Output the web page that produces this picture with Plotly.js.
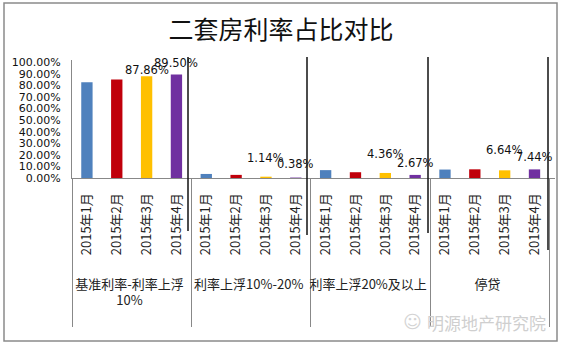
<!DOCTYPE html>
<html><head><meta charset="utf-8">
<script src="https://cdn.plot.ly/plotly-3.0.1.min.js"></script>
<style>html,body{margin:0;padding:0;background:#fff}</style>
</head><body><div id="chart" style="width:562px;height:346px"></div>
<script>
const groups = ['\u00a0<br>基准利率-利率上浮<br>10%<br>\u00a0', '\u00a0<br>利率上浮10%-20%', '\u00a0<br>利率上浮20%及以上', '\u00a0<br>停贷'];
const months = ['2015年1月', '2015年2月', '2015年3月', '2015年4月'];
const jan = [0.828, 0.035, 0.068, 0.073];
const feb = [0.851, 0.027, 0.050, 0.075];
const mar = [0.8786, 0.0114, 0.0436, 0.0664];
const apr = [0.8950, 0.0038, 0.0267, 0.0744];
const labelled = [false, false, true, true];
const series = [jan, feb, mar, apr];
const colors = ['#4F81BD', '#C0000B', '#FFC000', '#7030A0'];
const labelShift = [[0,0,-3,2],[0,0,10,5],[0,0,10,3],[0,0,11,3]];

const traces = series.map((vals, m) => ({
  type: 'bar',
  name: months[m],
  x: [groups, groups.map(() => months[m])],
  y: vals,
  width: 0.38,
  marker: {color: colors[m]},
  hoverinfo: 'skip'
}));

const catX = [[], []];
groups.forEach(g => months.forEach(mo => { catX[0].push(g); catX[1].push(mo); }));
traces.unshift({type:'bar', x: catX, y: catX[0].map(() => null), showlegend:false, hoverinfo:'skip'});

const annotations = [];
groups.forEach((g, gi) => {
  series.forEach((vals, m) => {
    if (!labelled[m]) return;
    annotations.push({
      x: gi * months.length + m, y: vals[gi], xref: 'x', yref: 'y',
      text: (vals[gi] * 100).toFixed(2) + '%', showarrow: false,
      yanchor: 'bottom', yshift: labelShift[gi][m],
      font: {family: 'DejaVu Sans', size: 11.5, color: '#111'}
    });
  });
});

const W = 562, H = 346, L = 72, R = 7, T = 60, B = 168;
const pw = W - L - R, ph = H - T - B;
const px = v => (v - L) / pw, py = v => (H - B - v) / ph;

annotations.push({
  xref: 'paper', yref: 'paper', x: px(548), y: py(322), xanchor: 'right', yanchor: 'middle',
  text: '明源地产研究院', showarrow: false,
  font: {family: 'Noto Sans CJK SC', size: 17, color: '#cfcfcf'}
});
annotations.push({
  xref: 'paper', yref: 'paper', x: px(412), y: py(321), xanchor: 'center', yanchor: 'middle',
  text: '☺', showarrow: false,
  font: {family: 'DejaVu Sans', size: 18, color: '#d4d4d4'}
});

const shapes = [
  {type:'rect', xref:'paper', yref:'paper', x0: px(4), x1: px(557), y0: py(341), y1: py(3),
   line:{color:'#8a8a8a', width:1.5}},
];
[188, 307, 428, 548].forEach((xx, i) => {
  shapes.push({type:'line', xref:'paper', yref:'paper', x0: px(xx), x1: px(xx), y0: py(57), y1: py([231, 235, 233, 250][i]),
    line:{color:'#111', width:1.5}});
});

const layout = {
  width: W, height: H,
  margin: {l: L, r: R, t: T, b: B},
  paper_bgcolor: '#fff', plot_bgcolor: '#fff',
  showlegend: false,
  barmode: 'overlay',
  title: {text: '二套房利率占比对比', font: {family: 'Noto Sans CJK SC', size: 25, color: '#111'},
          x: 0.5, xref: 'container', y: 1 - 30 / H, yref: 'container', yanchor: 'middle'},
  xaxis: {type: 'multicategory', showline: true, linecolor: '#888', linewidth: 1,
          tickangle: -90, ticks: '', showdividers: true, dividercolor: '#888', dividerwidth: 1,
          ticklabelstandoff: 9,
          tickfont: {family: 'Noto Sans CJK SC', size: 13, color: '#222'}, showgrid: false},
  yaxis: {range: [0, 1.02], tickvals: [0,0.1,0.2,0.3,0.4,0.5,0.6,0.7,0.8,0.9,1.0], tickformat: '.2%',
          showline: true, linecolor: '#888', linewidth: 1, ticks: '', showgrid: false, zeroline: false,
          ticklabelstandoff: 8, tickfont: {family: 'DejaVu Sans', size: 11, color: '#111'}},
  annotations, shapes
};
Plotly.newPlot('chart', traces, layout, {staticPlot: true, displayModeBar: false});
</script></body></html>
